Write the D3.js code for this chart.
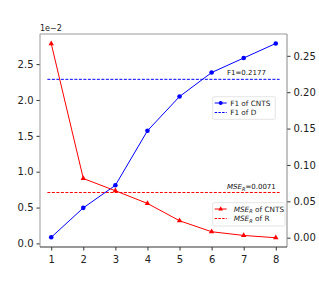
<!DOCTYPE html>
<html>
<head>
<meta charset="utf-8">
<script src="https://cdn.jsdelivr.net/npm/d3@7"></script>
<style>
  body { margin: 0; background: #fff; }
  text { font-family: "DejaVu Sans", sans-serif; }
</style>
</head>
<body>
<svg id="chart" width="319" height="283"></svg>
<script>
const steps = [1, 2, 3, 4, 5, 6, 7, 8]
const f1Cnts = [0.0005, 0.041, 0.072, 0.147, 0.194, 0.227, 0.247, 0.267]
const mseCnts = [0.02786, 0.00905, 0.00734, 0.00557, 0.00316, 0.00163, 0.00111, 0.00079]
const f1D = 0.2177
const mseR = 0.0071
const leftTicks = [0, 0.005, 0.01, 0.015, 0.02, 0.025]
const rightTicks = [0, 0.05, 0.1, 0.15, 0.2, 0.25]

const margin = { top: 34, right: 32, bottom: 36, left: 40 }
const W = 319, H = 283
const svg = d3.select('#chart')

const x = d3.scaleLinear().domain([0.65, 8.35]).range([margin.left, W - margin.right])
const yL = d3.scaleLinear().domain([-0.0005, 0.0292]).range([H - margin.bottom, margin.top])
const yR = d3.scaleLinear().domain([-0.0128, 0.2800]).range([H - margin.bottom, margin.top])

// axes
const xAxis = svg.append('g').attr('transform', `translate(0,${H - margin.bottom})`)
    .call(d3.axisBottom(x).tickValues(steps).tickFormat(d3.format('d')).tickSizeOuter(0).tickSize(3.5))
const lAxis = svg.append('g').attr('transform', `translate(${margin.left},0)`)
    .call(d3.axisLeft(yL).tickValues(leftTicks).tickFormat(d => (d * 100).toFixed(1)).tickSizeOuter(0).tickSize(3.5))
const rAxis = svg.append('g').attr('transform', `translate(${W - margin.right},0)`)
    .call(d3.axisRight(yR).tickValues(rightTicks).tickFormat(d3.format('.2f')).tickSizeOuter(0).tickSize(3.5))

;[xAxis, lAxis, rAxis].forEach(a => {
    a.select('.domain').remove()
    a.selectAll('text').style('font-size', '10px').attr('fill', '#222')
    a.selectAll('line').attr('stroke', '#333')
})
xAxis.selectAll('text').attr('dy', '0.9em')

// frame
svg.append('line').attr('x1', margin.left).attr('x2', W - margin.right)
    .attr('y1', margin.top).attr('y2', margin.top).attr('stroke', '#999')
svg.append('line').attr('x1', margin.left).attr('x2', margin.left)
    .attr('y1', margin.top).attr('y2', H - margin.bottom).attr('stroke', '#999')
svg.append('line').attr('x1', W - margin.right).attr('x2', W - margin.right)
    .attr('y1', margin.top).attr('y2', H - margin.bottom).attr('stroke', '#888')
svg.append('line').attr('x1', margin.left).attr('x2', W - margin.right)
    .attr('y1', H - margin.bottom).attr('y2', H - margin.bottom).attr('stroke', '#333')

svg.append('text').attr('x', margin.left).attr('y', margin.top - 3)
    .style('font-size', '8px').attr('fill', '#222').text('1e\u22122')

// reference lines
svg.append('line').attr('x1', x(0.88)).attr('x2', x(8.12))
    .attr('y1', yR(f1D)).attr('y2', yR(f1D))
    .attr('stroke', 'blue').attr('stroke-width', 1).attr('stroke-dasharray', '3,1.5')
svg.append('line').attr('x1', x(0.88)).attr('x2', x(8.12))
    .attr('y1', yL(mseR)).attr('y2', yL(mseR))
    .attr('stroke', 'red').attr('stroke-width', 1).attr('stroke-dasharray', '3,1.5')

svg.append('text').attr('x', 227).attr('y', yR(f1D) - 4)
    .style('font-size', '7px').attr('fill', '#111').text(`F1=${f1D}`)
const mt = svg.append('text').attr('x', 227).attr('y', yL(mseR) - 3)
    .style('font-size', '7px').attr('fill', '#111')
mt.append('tspan').style('font-style', 'italic').text('MSE')
mt.append('tspan').style('font-style', 'italic').style('font-size', '5px').attr('dy', 1.5).text('R')
mt.append('tspan').attr('dy', -1.5).text(`=${mseR}`)

// series
const lineF1 = d3.line().x((d, i) => x(steps[i])).y(d => yR(d))
const lineMse = d3.line().x((d, i) => x(steps[i])).y(d => yL(d))

svg.append('path').datum(f1Cnts).attr('d', lineF1)
    .attr('fill', 'none').attr('stroke', 'blue').attr('stroke-width', 1)
svg.append('g').selectAll('circle').data(f1Cnts).join('circle')
    .attr('cx', (d, i) => x(steps[i])).attr('cy', d => yR(d)).attr('r', 2.3).attr('fill', 'blue')

svg.append('path').datum(mseCnts).attr('d', lineMse)
    .attr('fill', 'none').attr('stroke', 'red').attr('stroke-width', 1)
const tri = d3.symbol().type(d3.symbolTriangle).size(13)
svg.append('g').selectAll('path').data(mseCnts).join('path')
    .attr('transform', (d, i) => `translate(${x(steps[i])},${yL(d)})`)
    .attr('d', tri).attr('fill', 'red')

// legends
function legend(x0, y0, w, h, rows) {
    const g = svg.append('g')
    g.append('rect').attr('x', x0).attr('y', y0).attr('width', w).attr('height', h)
        .attr('rx', 1.5).attr('fill', 'white').attr('fill-opacity', 0.85)
        .attr('stroke', '#ddd').attr('stroke-width', 0.8)
    rows.forEach((r, i) => {
        const cy = y0 + 6.3 + i * 9.5
        g.append('line').attr('x1', x0 + 2).attr('x2', x0 + 14).attr('y1', cy).attr('y2', cy)
            .attr('stroke', r.color).attr('stroke-width', 1)
            .attr('stroke-dasharray', r.dash ? '2.5,1.2' : null)
        if (r.marker === 'circle')
            g.append('circle').attr('cx', x0 + 8).attr('cy', cy).attr('r', 2).attr('fill', r.color)
        if (r.marker === 'tri')
            g.append('path').attr('transform', `translate(${x0 + 8},${cy})`)
                .attr('d', d3.symbol().type(d3.symbolTriangle).size(10)).attr('fill', r.color)
        const t = g.append('text').attr('x', x0 + r.tx).attr('y', cy + 2.5)
            .style('font-size', '7.3px').attr('fill', '#222')
        if (r.mse) {
            t.append('tspan').style('font-style', 'italic').text('MSE')
            t.append('tspan').style('font-style', 'italic').style('font-size', '5px').attr('dy', 1.5).text('R')
            t.append('tspan').attr('dy', -1.5).text(r.label)
        } else t.text(r.label)
    })
}
legend(212.7, 96.7, 62.6, 22.6, [
    { color: 'blue', marker: 'circle', label: 'F1 of CNTS', tx: 17.5 },
    { color: 'blue', dash: true, label: 'F1 of D', tx: 17.5 }
])
legend(212.7, 202.7, 72.3, 23.3, [
    { color: 'red', marker: 'tri', mse: true, label: ' of CNTS', tx: 21 },
    { color: 'red', dash: true, mse: true, label: ' of R', tx: 21 }
])
</script>
</body>
</html>
